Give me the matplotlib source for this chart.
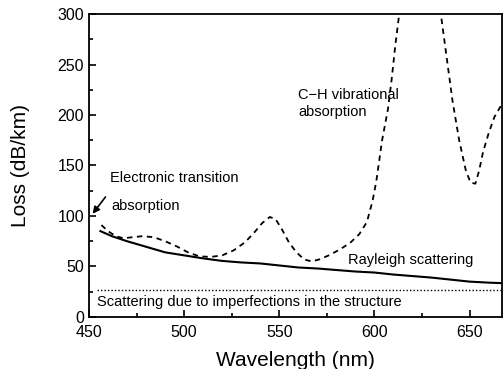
import matplotlib
matplotlib.use("Agg")
import matplotlib.pyplot as plt
from matplotlib.ticker import MultipleLocator
from matplotlib.transforms import ScaledTranslation

plt.rcParams['font.family'] = ['Liberation Sans', 'DejaVu Sans']

# Rayleigh scattering (solid)
rayleigh_wl = [456, 462, 470, 480, 490, 500, 510, 520, 530, 540, 550, 560,
               570, 580, 590, 600, 610, 620, 630, 640, 650, 660, 667]
rayleigh_loss = [85, 80, 75, 69.5, 64, 61, 58, 55.5, 54, 53, 51, 49,
                 48, 46.5, 45, 44, 42, 40.5, 39, 37, 35, 34, 33.5]

# total loss incl. absorption (dashed)
total_wl = [456.5, 460, 464, 468, 473, 478, 484, 490, 496, 502, 508, 514,
            520, 526, 532, 537, 541, 545, 548, 551, 555, 559, 563, 567,
            571, 576, 581, 587, 592, 596, 599, 601, 604, 607, 609, 611,
            613, 616, 624, 632, 635, 637.5, 641, 644.5, 648, 650.5, 653,
            655, 657, 660, 663, 667]
total_loss = [91, 85, 80, 78, 79, 80, 79, 75, 70, 64, 60, 59.5,
              61, 66, 74, 84, 93, 99, 97, 88, 74, 64, 57, 55,
              57, 61, 66, 73, 82, 94, 115, 135, 175, 205, 235, 270,
              300, 340, 380, 340, 298, 263, 214, 175, 145, 133, 132,
              145, 163, 182, 198, 211]

# scattering due to imperfections (dotted)
imperf_wl = [454, 667]
imperf_loss = [26.5, 26.5]

fig = plt.figure(figsize=(5.03, 3.69), dpi=100)
ax = fig.add_axes([0.177, 0.141, 0.821, 0.821])

ax.plot(rayleigh_wl, rayleigh_loss, color='black', lw=1.5)
ax.plot(total_wl, total_loss, color='black', lw=1.3, linestyle=(0, (3, 2.5)))
ax.plot(imperf_wl, imperf_loss, color='black', lw=1.0, linestyle=(0, (1, 1.5)))

ax.set_xlim(450, 667)
ax.set_ylim(0, 300)
ax.xaxis.set_major_locator(MultipleLocator(50))
ax.xaxis.set_minor_locator(MultipleLocator(25))
ax.yaxis.set_major_locator(MultipleLocator(50))
ax.yaxis.set_minor_locator(MultipleLocator(25))
ax.tick_params(which='both', direction='in', labelsize=11.5, width=1.2)
ax.tick_params(which='major', length=5)
ax.tick_params(which='minor', length=3)
ax.tick_params(axis='x', pad=6)
for s in ax.spines.values():
    s.set_linewidth(1.3)

ax.set_xlabel('Wavelength (nm)', fontsize=15, labelpad=8)
ax.set_ylabel('Loss (dB/km)', fontsize=15, labelpad=20)

# nudge the "0" label up a little, as in the original
fig.canvas.draw()
ylabels = ax.get_yticklabels()
ylabels[0].set_transform(ylabels[0].get_transform()
                         + ScaledTranslation(0, 0.05, fig.dpi_scale_trans))

ax.text(461, 138, 'Electronic transition', fontsize=10.5, va='center')
ax.text(462, 110, 'absorption', fontsize=10.5, va='center')
ax.annotate('', xy=(451, 100), xytext=(459.5, 121),
            arrowprops=dict(arrowstyle='-|>', color='black', lw=1.2,
                            mutation_scale=10))
ax.text(560, 220, 'C\u2212H vibrational', fontsize=10.5, va='center')
ax.text(560, 203, 'absorption', fontsize=10.5, va='center')
ax.text(586, 56, 'Rayleigh scattering', fontsize=10.5, va='center')
ax.text(454, 15, 'Scattering due to imperfections in the structure',
        fontsize=10.5, va='center')

fig.savefig('out.png', dpi=100)
